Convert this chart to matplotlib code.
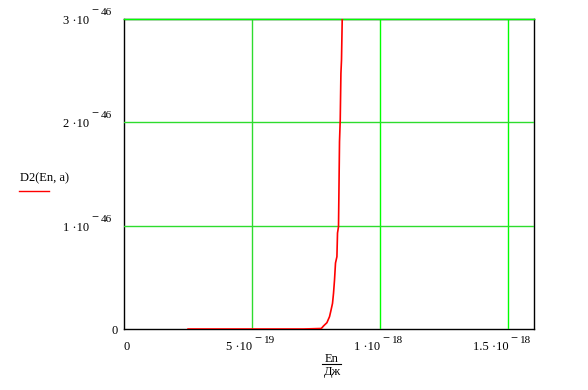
import matplotlib
matplotlib.use("Agg")
import matplotlib.pyplot as plt
from matplotlib.lines import Line2D
import matplotlib.transforms as mtransforms

plt.rcParams['font.family'] = ['Liberation Serif', 'DejaVu Serif']

# Data (En in J, D2 values)
En = [2.5e-19, 3.0e-19, 4.0e-19, 5.0e-19, 6.0e-19, 7.0e-19, 7.7e-19,
      7.785e-19, 7.918e-19, 8.02e-19, 8.074e-19, 8.137e-19, 8.176e-19,
      8.215e-19, 8.254e-19, 8.309e-19, 8.332e-19, 8.371e-19, 8.387e-19,
      8.41e-19, 8.438e-19, 8.465e-19, 8.488e-19, 8.516e-19]
D2 = [0, 0, 0, 0, 0, 0, 0.005e-46,
      0.029e-46, 0.061e-46, 0.119e-46, 0.177e-46, 0.248e-46, 0.345e-46,
      0.474e-46, 0.639e-46, 0.700e-46, 0.929e-46, 0.990e-46, 1.316e-46,
      1.813e-46, 2.023e-46, 2.474e-46, 2.603e-46, 3.0e-46]

x_ticks = [0, 5e-19, 1e-18, 1.5e-18]
x_mant = ['0', '5 ·10', '1 ·10', '1.5 ·10']
x_exp = ['', '19', '18', '18']
y_ticks = [0, 1e-46, 2e-46, 3e-46]
y_mant = ['0', '1 ·10', '2 ·10', '3 ·10']
y_exp = ['', '46', '46', '46']

fig = plt.figure(figsize=(5.88, 3.90), dpi=100)
ax = fig.add_axes([124/588, 1-329/390, (534-124)/588, (329-19)/390])

ax.set_xlim(0, 1.6e-18)
ax.set_ylim(0, 3e-46)

ax.set_xticks(x_ticks)
ax.set_yticks(y_ticks)
ax.set_xticklabels([])
ax.set_yticklabels([])
ax.tick_params(length=0)

ax.grid(True, color='#00ff00', linewidth=1.0)
ax.set_axisbelow(False)
xg = ax.get_xgridlines()
yg = ax.get_ygridlines()
xg[0].set_visible(False)
yg[0].set_visible(False)
xg[1].set_color('#2edc2e')
yg[1].set_color('#2edc2e')
yg[2].set_color('#2edc2e')
yg[3].set_zorder(5)
yg[3].set_clip_on(False)

for s in ax.spines.values():
    s.set_color('black')
    s.set_linewidth(1.0)

ax.plot(En, D2, color='#ff0000', linewidth=1.2, zorder=4)

BASE = 9
SUP = 8


def exp_label(x, y, trans, dx, dy, digits):
    # raised long minus, then exponent digits
    ax.text(x, y, '\u2212', fontsize=9, ha='left', va='baseline',
            transform=mtransforms.offset_copy(trans, fig, x=dx, y=dy + 1, units='dots'))
    ax.text(x, y, digits, fontsize=SUP, ha='left', va='baseline',
            transform=mtransforms.offset_copy(trans, fig, x=dx + 10, y=dy, units='dots'))


# x tick labels
tx = mtransforms.blended_transform_factory(ax.transData, ax.transAxes)
for v, m, e in zip(x_ticks, x_mant, x_exp):
    if e == '':
        ax.text(v, 0, m, fontsize=BASE, ha='left', va='baseline',
                transform=mtransforms.offset_copy(tx, fig, x=0, y=-21, units='dots'))
        continue
    ax.text(v, 0, m, fontsize=BASE, ha='right', va='baseline',
            transform=mtransforms.offset_copy(tx, fig, x=0, y=-21, units='dots'))
    exp_label(v, 0, tx, 2, -14, e)

# y tick labels
ty = mtransforms.blended_transform_factory(ax.transAxes, ax.transData)
for v, m, e in zip(y_ticks, y_mant, y_exp):
    if e == '':
        ax.text(0, v, m, fontsize=BASE, ha='right', va='baseline',
                transform=mtransforms.offset_copy(ty, fig, x=-6, y=-4.5, units='dots'))
        continue
    ax.text(0, v, m, fontsize=BASE, ha='right', va='baseline',
            transform=mtransforms.offset_copy(ty, fig, x=-35, y=-5, units='dots'))
    exp_label(0, v, ty, -33, 4, e)

# y label with legend line
fig.text(20/588, 1-178/390, 'D2(En, a)', fontsize=9, ha='left', va='center')
fig.add_artist(Line2D([19/588, 49/588], [1-191/390, 1-191/390],
                      color='#ff0000', linewidth=1.0))

# x label as fraction En / Дж
fig.text(332/588, 1-361.5/390, 'En', fontsize=9, ha='center', va='baseline')
fig.add_artist(Line2D([322/588, 341/588], [1-363.5/390, 1-363.5/390],
                      color='black', linewidth=0.8))
fig.text(332/588, 1-375/390, 'Дж', fontsize=9, ha='center', va='baseline')

fig.savefig('out.png', dpi=100)
